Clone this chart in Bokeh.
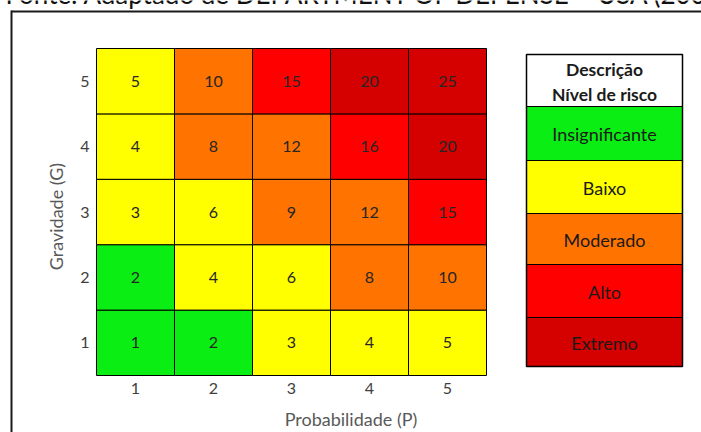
from bokeh.plotting import figure
from bokeh.models import Range1d, ColumnDataSource, FixedTicker, LinearAxis
from bokeh.core.properties import value
from bokeh.embed import file_html
from bokeh.resources import INLINE

# ---------------- data ----------------
probabilidade = [1, 2, 3, 4, 5]          # x categories (P)
gravidade = [1, 2, 3, 4, 5]              # y categories (G)
# rows: gravidade 1..5, columns: probabilidade 1..5
risk_values = [
    [1, 2, 3, 4, 5],
    [2, 4, 6, 8, 10],
    [3, 6, 9, 12, 15],
    [4, 8, 12, 16, 20],
    [5, 10, 15, 20, 25],
]
risk_levels = [
    ["Insignificante", "Insignificante", "Baixo", "Baixo", "Baixo"],
    ["Insignificante", "Baixo", "Baixo", "Moderado", "Moderado"],
    ["Baixo", "Baixo", "Moderado", "Moderado", "Alto"],
    ["Baixo", "Moderado", "Moderado", "Alto", "Extremo"],
    ["Baixo", "Moderado", "Alto", "Extremo", "Extremo"],
]
legend_title = ["Descrição", "Nível de risco"]
legend_levels = ["Insignificante", "Baixo", "Moderado", "Alto", "Extremo"]
legend_colors = ["#0AEE14", "#FFFF00", "#FF7300", "#FF0000", "#D50000"]
x_label = "Probabilidade (P)"
y_label = "Gravidade (G)"
caption = "Fonte: Adaptado de DEPARTMENT OF DEFENSE – USA (2001)"

FONT = "Lato"
color_of = dict(zip(legend_levels, legend_colors))

# ---------------- geometry (pixels) ----------------
W, H = 701, 432
hx0, hx1 = 96, 486        # heat map left/right (px)
hy0, hy1 = 48, 375        # heat map top/bottom (px from top)
cw = (hx1 - hx0) / len(probabilidade)
ch = (hy1 - hy0) / len(gravidade)
x0 = min(probabilidade) - 0.5
x1 = max(probabilidade) + 0.5
y0 = min(gravidade) - 0.5
y1 = max(gravidade) + 0.5

p = figure(width=W, height=H,
           x_range=Range1d(x0 - hx0 / cw, x1 + (W - hx1) / cw),
           y_range=Range1d(y0 - (H - hy1) / ch, y1 + hy0 / ch),
           x_axis_type=None, y_axis_type=None,
           toolbar_location=None, output_backend="svg", min_border=0)
p.extra_x_ranges = {"px": Range1d(0, W)}
p.extra_y_ranges = {"px": Range1d(H, 0)}
p.outline_line_color = None
p.background_fill_color = "white"
p.border_fill_color = "white"
p.grid.visible = False
kw = dict(x_range_name="px", y_range_name="px")

# ---------------- document frame + caption (cut off, as in the source) ----------------
p.text(x=[5], y=[-7], text=[caption], text_font=value(FONT),
       text_font_size="26px", text_color="#111111",
       text_baseline="alphabetic", text_align="left", **kw)
p.line(x=[11, W + 5], y=[11, 11], line_color="#1a1a1a", line_width=2, **kw)
p.line(x=[11, 11], y=[10, H + 5], line_color="#1a1a1a", line_width=2, **kw)

# ---------------- heat map ----------------
xs, ys, vals, cols = [], [], [], []
for gi, g in enumerate(gravidade):
    for pi, pv in enumerate(probabilidade):
        xs.append(pv)
        ys.append(g)
        vals.append(str(risk_values[gi][pi]))
        cols.append(color_of[risk_levels[gi][pi]])
src = ColumnDataSource(dict(x=xs, y=ys, v=vals, c=cols))

p.rect(x="x", y="y", width=1, height=1, fill_color="c", line_color="black",
       line_width=1, source=src)
p.text(x="x", y="y", text="v", source=src, text_align="center",
       text_baseline="middle", text_font=value(FONT),
       text_font_size="16px", text_color="#262626")

xaxis = LinearAxis(fixed_location=y0)
yaxis = LinearAxis(fixed_location=x0)
p.add_layout(xaxis, "below")
p.add_layout(yaxis, "left")
for ax, ticks, lab in ((xaxis, probabilidade, x_label),
                       (yaxis, gravidade, y_label)):
    ax.ticker = FixedTicker(ticks=ticks)
    ax.axis_line_color = None
    ax.major_tick_line_color = None
    ax.minor_tick_line_color = None
    ax.major_tick_out = 0
    ax.major_tick_in = 0
    ax.major_label_text_font = FONT
    ax.major_label_text_font_size = "16px"
    ax.major_label_text_color = "#404040"
    ax.axis_label = lab
    ax.axis_label_text_font = FONT
    ax.axis_label_text_font_size = "18px"
    ax.axis_label_text_font_style = "normal"
    ax.axis_label_text_color = "#595959"
xaxis.major_label_standoff = 7
xaxis.axis_label_standoff = 11
yaxis.major_label_standoff = 7
yaxis.axis_label_standoff = 10
yaxis.major_label_orientation = "horizontal"

# ---------------- legend table ----------------
bx0, bx1 = 526, 682
row_edges = [54, 106, 160, 213, 264, 317, 366]   # header + one row per level (px)
n = len(legend_levels)
tops = row_edges[1:-1]
bots = row_edges[2:]
p.quad(left=[bx0], right=[bx1], top=[row_edges[0]], bottom=[row_edges[1]],
       fill_color="white", line_color="black", line_width=1, **kw)
p.quad(left=[bx0] * n, right=[bx1] * n, top=tops, bottom=bots,
       fill_color=legend_colors, line_color="black", line_width=1, **kw)
p.quad(left=[bx0], right=[bx1], top=[row_edges[0]], bottom=[row_edges[-1]],
       fill_color=None, line_color="black", line_width=1.5, **kw)
cx = (bx0 + bx1) / 2
p.text(x=[cx, cx], y=[row_edges[0] + 15, row_edges[0] + 40], text=legend_title,
       text_align="center", text_baseline="middle", text_font=value(FONT),
       text_font_size="17.5px", text_font_style="bold", text_color="#1a1a1a",
       **kw)
p.text(x=[cx] * n, y=[(t + b) / 2 + 0.5 for t, b in zip(tops, bots)],
       text=legend_levels, text_align="center", text_baseline="middle",
       text_font=value(FONT), text_font_size="18px", text_color="#1a1a1a",
       **kw)

open("out.html", "w").write(file_html(p, INLINE))
